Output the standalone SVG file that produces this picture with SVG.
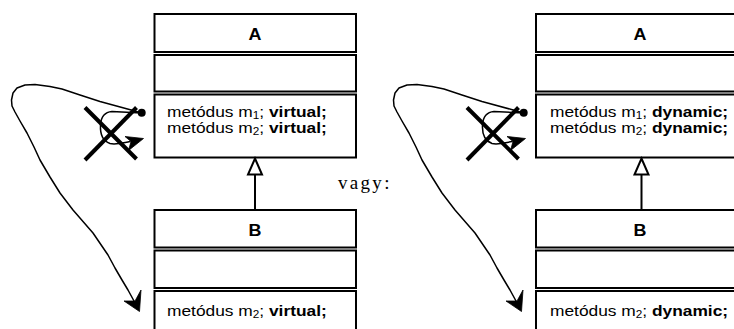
<svg xmlns="http://www.w3.org/2000/svg" width="734" height="329" viewBox="0 0 734 329">
<style>
 .box{fill:#fff;stroke:#000;stroke-width:2}
 .t{font-family:"Liberation Sans",Arial,Helvetica,sans-serif;font-size:15.5px;fill:#000}
 .b{font-weight:bold}
 .title{font-weight:bold;text-anchor:middle;font-size:16px}
 .sub{font-size:10.5px}
 .thin{fill:none;stroke:#000;stroke-width:1.5;stroke-linejoin:round;stroke-linecap:round}
 .x{stroke:#000;stroke-width:4}
 .gen{fill:none;stroke:#000;stroke-width:2}
 .tri{fill:#fff;stroke:#000;stroke-width:2;stroke-linejoin:miter}
 .head{fill:#000;stroke:#000;stroke-width:0.8;stroke-linejoin:round}
 .vagy{font-family:"Liberation Serif","Times New Roman",serif;font-size:19px;letter-spacing:2.3px;fill:#000}
</style>
<defs>
 <g id="scribble">
  <path class="thin" d="M141.5,113 L133,110.5 L100,101.5 L80,95 L62,89 L50,86.5 L35,84.5 L25,85 L17,88 L13,93 L11.5,100 L12,106 L15,112 L20,121 L27,133 L34,147 L40,160 L50,177 L60,193 L73,210 L93,233 L108,255 L115,268 L122,280 L128,290 L134,301"/>
  <polygon class="head" points="124,301 139.5,311.5 141,290 135,301"/>
  <path class="thin" d="M141.5,113 L112,111.5 C105,112 101,117 100.5,125 C100,134 103,141 110,143.5 C116,145 122,143 130,141.5"/>
  <polygon class="head" points="125,136.5 143.5,138.5 128.5,150.5 131,141.5"/>
  <circle cx="141.7" cy="112.8" r="4" fill="#000"/>
  <line class="x" x1="136.5" y1="107.5" x2="85" y2="160"/>
  <line class="x" x1="85" y1="107.5" x2="136.5" y2="159"/>
 </g>
</defs>

<g id="A-left">
 <rect class="box" x="154.5" y="14" width="201.5" height="38"/>
 <rect class="box" x="154.5" y="55" width="201.5" height="36.5"/>
 <rect class="box" x="154.5" y="94.5" width="201.5" height="63"/>
 <text class="t title" transform="translate(255,39.5) scale(1.12,1)">A</text>
 <text class="t" transform="translate(167,117) scale(1.12,1)">metódus m<tspan class="sub" dy="2">1</tspan><tspan dy="-2">; </tspan><tspan class="b">virtual;</tspan></text>
 <text class="t" transform="translate(167,132.5) scale(1.12,1)">metódus m<tspan class="sub" dy="2">2</tspan><tspan dy="-2">; </tspan><tspan class="b">virtual;</tspan></text>
</g>

<g id="B-left">
 <rect class="box" x="154.5" y="210" width="201.5" height="37.5"/>
 <rect class="box" x="154.5" y="250.5" width="201.5" height="37.5"/>
 <rect class="box" x="154.5" y="291" width="201.5" height="50"/>
 <text class="t title" transform="translate(255,235.5) scale(1.12,1)">B</text>
 <text class="t" transform="translate(167,316) scale(1.12,1)">metódus m<tspan class="sub" dy="2">2</tspan><tspan dy="-2">; </tspan><tspan class="b">virtual;</tspan></text>
</g>

<g id="A-right">
 <rect class="box" x="536" y="14" width="210" height="38"/>
 <rect class="box" x="536" y="55" width="210" height="36.5"/>
 <rect class="box" x="536" y="94.5" width="210" height="63"/>
 <text class="t title" transform="translate(640,39.5) scale(1.12,1)">A</text>
 <text class="t" transform="translate(550,117) scale(1.12,1)">metódus m<tspan class="sub" dy="2">1</tspan><tspan dy="-2">; </tspan><tspan class="b">dynamic;</tspan></text>
 <text class="t" transform="translate(550,132.5) scale(1.12,1)">metódus m<tspan class="sub" dy="2">2</tspan><tspan dy="-2">; </tspan><tspan class="b">dynamic;</tspan></text>
</g>

<g id="B-right">
 <rect class="box" x="536" y="210" width="210" height="37.5"/>
 <rect class="box" x="536" y="250.5" width="210" height="37.5"/>
 <rect class="box" x="536" y="291" width="210" height="50"/>
 <text class="t title" transform="translate(640,235.5) scale(1.12,1)">B</text>
 <text class="t" transform="translate(550,316) scale(1.12,1)">metódus m<tspan class="sub" dy="2">2</tspan><tspan dy="-2">; </tspan><tspan class="b">dynamic;</tspan></text>
</g>

<g id="connectors">
 <line class="gen" x1="255" y1="174.5" x2="255" y2="210"/>
 <polygon class="tri" points="255,158.5 262,174.5 248,174.5"/>
 <line class="gen" x1="641.5" y1="174.5" x2="641.5" y2="210"/>
 <polygon class="tri" points="641.5,158.5 648.5,174.5 634.5,174.5"/>
 <use href="#scribble"/>
 <use href="#scribble" transform="translate(382,0)"/>
</g>

<text class="vagy" x="338" y="189">vagy:</text>
</svg>
